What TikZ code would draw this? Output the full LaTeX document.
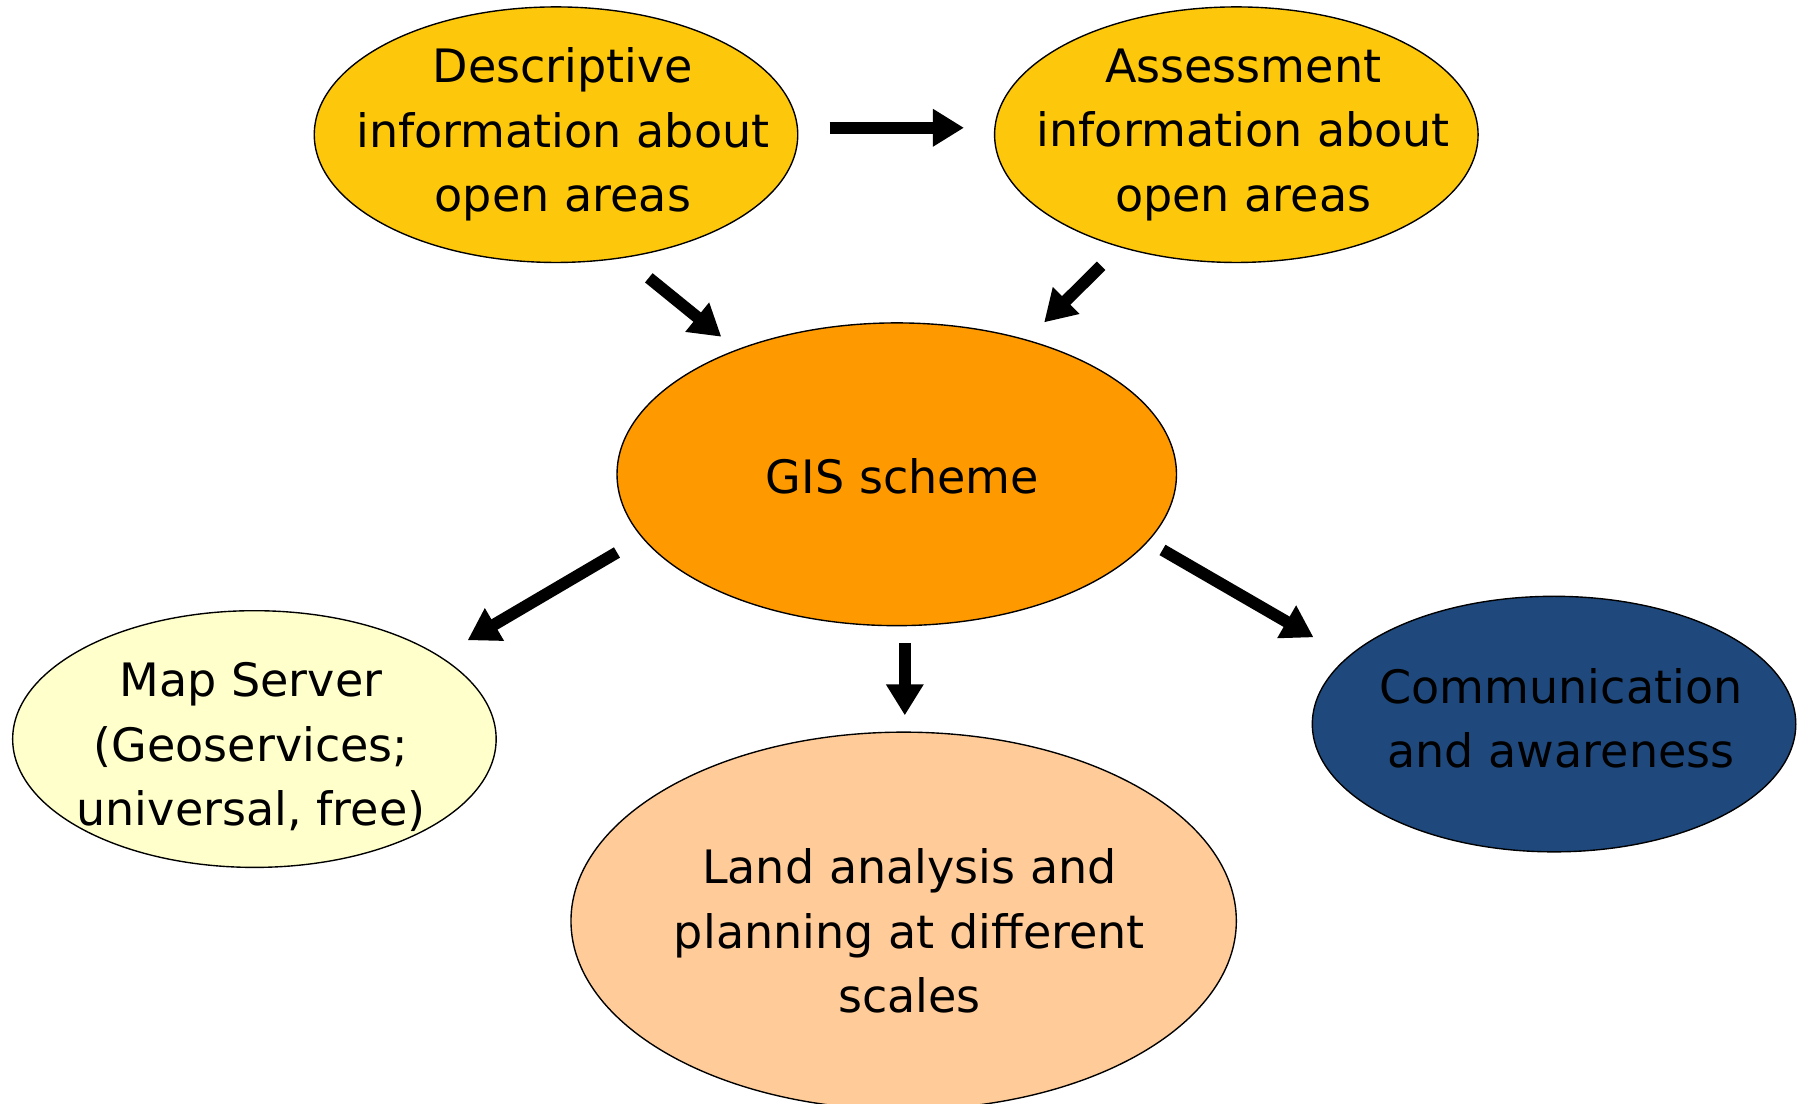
\documentclass[tikz,border=0pt]{standalone}
\usepackage{fontspec}
\setmainfont{DejaVu Sans}
\usetikzlibrary{shapes.geometric,arrows.meta}
\definecolor{goldfill}{HTML}{FDC70C}
\definecolor{gisfill}{HTML}{FF9900}
\definecolor{mapfill}{HTML}{FFFFCC}
\definecolor{landfill}{HTML}{FFCC99}
\definecolor{commfill}{HTML}{1F497D}
\tikzset{
  oval/.style={ellipse, draw=black, line width=0.6pt, inner sep=0pt},
  txt/.style={align=center, inner sep=0pt, font=\fontsize{20}{28}\selectfont},
  arr/.style={line width=5.2pt, -{Triangle[length=13.5pt,width=15.5pt]}}
}
\begin{document}
\begin{tikzpicture}[x=0.5pt,y=-0.5pt]
\clip (0,0) rectangle (1568,959);
\fill[white] (0,0) rectangle (1568,959);
\node[oval, fill=goldfill, minimum width=210pt, minimum height=111pt] (desc) at (483,117) {};
\node[txt] (desc-t) at (489,117) {Descriptive\\information about\\open areas};
\node[oval, fill=goldfill, minimum width=210pt, minimum height=111pt] (assess) at (1074,117) {};
\node[txt] (assess-t) at (1080,117) {Assessment\\information about\\open areas};
\node[oval, fill=gisfill, minimum width=243pt, minimum height=131.5pt] (gis) at (779,412) {};
\node[txt] (gis-t) at (784,414) {GIS scheme};
\node[oval, fill=mapfill, minimum width=210pt, minimum height=111.5pt] (map) at (221,642) {};
\node[txt] (map-t) at (218,649) {Map Server\\(Geoservices;\\universal, free)};
\node[oval, fill=landfill, minimum width=289pt, minimum height=164pt] (land) at (785,800) {};
\node[txt] (land-t) at (790,809) {Land analysis and\\planning at different\\scales};
\node[oval, fill=commfill, minimum width=210pt, minimum height=111pt] (comm) at (1350,629) {};
\node[txt] (comm-t) at (1356,624) {Communication\\and awareness};
\draw[arr, shorten <=13.5pt, shorten >=13pt] ([yshift=3pt]desc.east) -- ([yshift=3pt]assess.west);
\draw[arr, shorten <=13.7pt, shorten >=8.7pt] (desc.-61.7) -- (gis.142);
\draw[arr, shorten <=11.4pt, shorten >=10.6pt] (assess.-136.25) -- (gis.46.9);
\draw[arr, shorten <=12.6pt, shorten >=13.75pt] (gis.-166.2) -- (map.24.2);
\draw[arr, shorten <=7.25pt, shorten >=7pt] ([xshift=3.5pt]gis.south) -- ([xshift=3.5pt]gis.south |- land.north);
\draw[arr, shorten <=7.2pt, shorten >=17pt] (gis.-15.4) -- (comm.162.9);
\end{tikzpicture}
\end{document}
